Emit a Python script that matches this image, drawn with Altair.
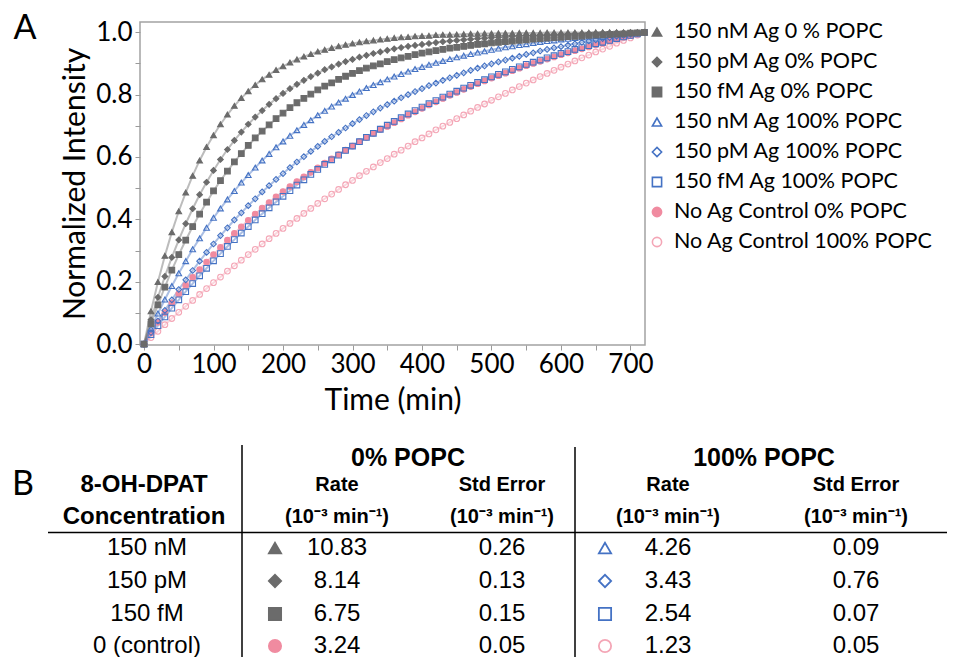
import altair as alt
import pandas as pd

# ---------------- data ----------------
time_min = list(range(0, 721, 10))

series_names = [
    "150 nM Ag 0 % POPC",
    "150 pM Ag 0% POPC",
    "150 fM Ag 0% POPC",
    "150 nM Ag 100% POPC",
    "150 pM Ag 100% POPC",
    "150 fM Ag 100% POPC",
    "No Ag Control 0% POPC",
    "No Ag Control 100% POPC",
]

nM_0pct = [0, .105, .199, .283, .359, .426, .486, .540, .589, .632,
           .670, .705, .736, .764, .789, .811, .831, .849, .864, .879,
           .891, .903, .913, .922, .930, .938, .944, .950, .955, .960,
           .964, .968, .971, .974, .977, .979, .982, .984, .985, .987,
           .988, .989, .991, .992, .992, .993, .994, .995, .995, .996,
           .996, .997, .997, .997, .998, .998, .998, .998, .999, .999,
           .999, .999, .999, .999, .999, 1.0, 1.0, 1.0, 1.0, 1.0,
           1.0, 1.0, 1.0]
pM_0pct = [0, .078, .150, .217, .278, .334, .386, .434, .479, .519,
           .557, .592, .624, .653, .680, .705, .728, .749, .769, .787,
           .804, .819, .833, .846, .858, .869, .880, .889, .898, .906,
           .913, .920, .926, .932, .937, .942, .947, .951, .955, .958,
           .961, .964, .967, .970, .972, .974, .976, .978, .980, .981,
           .983, .984, .985, .987, .988, .989, .990, .991, .992, .993,
           .993, .994, .995, .995, .996, .996, .997, .997, .998, .998,
           .999, .999, 1.0]
fM_0pct = [0, .065, .126, .183, .237, .287, .333, .377, .417, .455,
           .491, .524, .555, .584, .611, .637, .661, .683, .703, .723,
           .741, .758, .774, .788, .802, .815, .827, .838, .849, .859,
           .868, .877, .885, .892, .899, .906, .912, .918, .923, .928,
           .933, .937, .941, .945, .949, .952, .955, .958, .961, .963,
           .966, .968, .970, .972, .974, .976, .978, .980, .981, .983,
           .984, .986, .987, .988, .990, .991, .992, .993, .994, .995,
           .997, .998, 1.0]
nM_100pct = [0, .050, .098, .143, .186, .227, .266, .304, .339, .373,
             .405, .435, .464, .491, .518, .542, .566, .589, .610, .631,
             .650, .668, .686, .703, .718, .734, .748, .762, .775, .787,
             .799, .810, .821, .831, .840, .849, .858, .866, .874, .882,
             .889, .896, .902, .908, .914, .920, .925, .930, .935, .939,
             .944, .948, .952, .955, .959, .962, .966, .969, .972, .974,
             .977, .979, .982, .984, .986, .988, .990, .992, .994, .995,
             .997, .999, 1.0]
pM_100pct = [0, .037, .074, .108, .142, .175, .206, .236, .266, .294,
             .321, .348, .373, .398, .421, .444, .466, .488, .508, .528,
             .547, .566, .584, .601, .618, .634, .650, .665, .679, .693,
             .707, .720, .733, .745, .757, .768, .779, .790, .800, .810,
             .819, .829, .837, .846, .854, .862, .870, .878, .885, .892,
             .899, .905, .911, .917, .923, .929, .934, .940, .945, .950,
             .954, .959, .963, .968, .972, .976, .980, .983, .987, .990,
             .994, .997, 1.0]
fM_100pct = [0, .030, .059, .087, .115, .142, .168, .194, .219, .243,
             .267, .290, .313, .335, .356, .377, .398, .418, .437, .456,
             .474, .492, .510, .527, .544, .560, .576, .591, .606, .621,
             .635, .649, .663, .676, .689, .702, .714, .726, .738, .749,
             .760, .771, .781, .792, .802, .811, .821, .830, .839, .848,
             .857, .865, .873, .881, .889, .897, .904, .911, .918, .925,
             .932, .938, .945, .951, .957, .963, .968, .974, .980, .985,
             .990, .995, 1.0]
ctrl_0pct = [0, .036, .070, .101, .132, .161, .188, .214, .239, .263,
             .287, .310, .333, .355, .376, .397, .417, .436, .454, .472,
             .489, .505, .521, .536, .551, .565, .580, .594, .608, .622,
             .635, .649, .663, .676, .689, .698, .710, .722, .734, .745,
             .756, .767, .777, .788, .798, .807, .817, .826, .835, .844,
             .853, .861, .869, .877, .885, .893, .900, .907, .914, .921,
             .928, .934, .941, .947, .953, .960, .965, .972, .978, .984,
             .989, .995, 1.0]
ctrl_100pct = [0, .021, .041, .062, .082, .102, .121, .140, .159, .178,
               .197, .215, .234, .251, .269, .287, .304, .321, .338, .355,
               .371, .387, .403, .419, .435, .451, .466, .481, .496, .511,
               .525, .540, .554, .568, .582, .595, .609, .622, .635, .649,
               .661, .674, .687, .699, .711, .723, .735, .747, .759, .770,
               .782, .793, .804, .815, .826, .837, .847, .858, .868, .878,
               .888, .898, .908, .918, .927, .937, .946, .955, .965, .974,
               .982, .991, 1.0]

curves = [nM_0pct, pM_0pct, fM_0pct, nM_100pct, pM_100pct, fM_100pct,
          ctrl_0pct, ctrl_100pct]

# table B
conc_labels = ["150 nM", "150 pM", "150 fM", "0 (control)"]
rate_0 = [10.83, 8.14, 6.75, 3.24]
se_0 = [0.26, 0.13, 0.15, 0.05]
rate_100 = [4.26, 3.43, 2.54, 1.23]
se_100 = [0.09, 0.76, 0.07, 0.05]
group_headers = ["0% POPC", "100% POPC"]
col_head_1 = ["8-OH-DPAT", "Rate", "Std Error", "Rate", "Std Error"]
unit_txt = "(10\u207b\u00b3 min\u207b\u00b9)"
col_head_2 = ["Concentration", unit_txt, unit_txt, unit_txt, unit_txt]
sym_0 = [0, 1, 2, 6]      # series shown in the 0% rate column
sym_100 = [3, 4, 5, 7]    # series shown in the 100% rate column
panel_labels = ["A", "B"]

# ---------------- styles / layout ----------------
GRAY, BLUE, PINK, PINK_L = "#6b6b6b", "#4472c4", "#f08ba0", "#f4a6b6"
series_stroke = [GRAY, GRAY, GRAY, BLUE, BLUE, BLUE, PINK, PINK_L]
series_fill = [GRAY, GRAY, GRAY, "transparent", "transparent", "transparent", PINK, "transparent"]
series_shape = ["triangle-up", "diamond", "square", "triangle-up", "diamond", "square", "circle", "circle"]
draw_order = [7, 6, 5, 4, 3, 2, 1, 0]

PL, PT, PW, PH = 140, 22, 505, 323          # plot area on the page
TOTAL_W, TOTAL_H = 939, 649

col_x = [144, 337, 502, 668, 856]
group_x = [408, 764]
group_y = 458
head_y = [485, 517]
row_y = [548, 581, 614, 646]
sym_x = [275, 605]
panel_xy = [(25, 29), (23, 485)]
rules_xy = [(242, 242, 445, 665), (575, 575, 447, 665), (48, 955, 532.5, 532.5)]
legend_sym_x, legend_lab_x = 657, 674
legend_y = [32, 62, 92, 122, 152, 182, 212, 242]

# ---------------- frames ----------------
line_color = dict(zip(series_names, series_stroke))
rows = []
for k in draw_order:
    for t, v in zip(time_min, curves[k]):
        rows.append({"t": t, "v": v, "series": series_names[k],
                     "lc": line_color[series_names[k]]})
df = pd.DataFrame(rows)

bold_rows = []
for g, gx in zip(group_headers, group_x):
    bold_rows.append({"text": g, "x": gx, "y": group_y, "fs": 25})
for i, cx in enumerate(col_x):
    fs1 = 24 if i == 0 else 20
    fs2 = 24 if i == 0 else 20
    bold_rows.append({"text": col_head_1[i], "x": cx, "y": head_y[0], "fs": fs1})
    bold_rows.append({"text": col_head_2[i], "x": cx, "y": head_y[1], "fs": fs2})
bold_df = pd.DataFrame(bold_rows)

body_rows = []
for r in range(4):
    body_rows.append({"text": conc_labels[r], "x": col_x[0] + 3, "y": row_y[r]})
    for ci, vals in zip([1, 2, 3, 4], [rate_0, se_0, rate_100, se_100]):
        body_rows.append({"text": f"{vals[r]:.2f}", "x": col_x[ci], "y": row_y[r]})
body_df = pd.DataFrame(body_rows)

sym_rows = []
for r in range(4):
    sym_rows.append({"x": sym_x[0], "y": row_y[r], "series": series_names[sym_0[r]]})
    sym_rows.append({"x": sym_x[1], "y": row_y[r], "series": series_names[sym_100[r]]})
sym_df = pd.DataFrame(sym_rows)

leg_df = pd.DataFrame([{"series": s, "x": legend_sym_x, "lx": legend_lab_x, "y": y}
                       for s, y in zip(series_names, legend_y)])

rule_df = pd.DataFrame([{"x1": a, "x2": b, "y1": c, "y2": d} for a, b, c, d in rules_xy])
panel_df = pd.DataFrame([{"text": s, "x": p[0], "y": p[1]} for s, p in zip(panel_labels, panel_xy)])

# ---------------- scales ----------------
stroke_scale = alt.Scale(domain=series_names, range=series_stroke)
fill_scale = alt.Scale(domain=series_names, range=series_fill)
shape_scale = alt.Scale(domain=series_names, range=series_shape)


def sym_enc():
    return dict(
        stroke=alt.Stroke("series:N", scale=stroke_scale, legend=None),
        fill=alt.Fill("series:N", scale=fill_scale, legend=None),
        shape=alt.Shape("series:N", scale=shape_scale, legend=None),
    )


x_plot = alt.X(
    "t:Q",
    scale=alt.Scale(domain=[-5.8, 720.9], nice=False, zero=False),
    axis=alt.Axis(
        values=list(range(0, 701, 50)),
        labelExpr="datum.value % 100 === 0 ? datum.label : ''",
        title="Time (min)", format="d",
        labelFontSize=26, titleFontSize=30, tickSize=5, labelPadding=1, titlePadding=8,
    ),
)
y_plot = alt.Y(
    "v:Q",
    scale=alt.Scale(domain=[-0.003, 1.033], nice=False, zero=False),
    axis=alt.Axis(
        values=[0.0, 0.1, 0.2, 0.3, 0.4, 0.5, 0.6, 0.7, 0.8, 0.9, 1.0],
        labelExpr="round(datum.value * 10) % 2 === 0 ? format(datum.value, '.1f') : ''",
        title="Normalized Intensity",
        labelFontSize=26, titleFontSize=30, tickSize=5, labelPadding=3, titlePadding=5,
    ),
)

lines = alt.Chart(df).mark_line(strokeWidth=2, opacity=0.45).encode(
    x=x_plot, y=y_plot,
    stroke=alt.Stroke("lc:N", scale=None),
    detail="series:N",
)
points = alt.Chart(df).mark_point(size=32, strokeWidth=1.1, opacity=1).encode(
    x=x_plot, y=y_plot, **sym_enc()
)
plot = alt.layer(lines, points)

tx = alt.X("x:Q", scale=alt.Scale(domain=[PL, PL + PW], nice=False, zero=False), axis=None)
ty = alt.Y("y:Q", scale=alt.Scale(domain=[PT + PH, PT], nice=False, zero=False), axis=None)

rules = alt.Chart(rule_df).mark_rule(color="black", strokeWidth=1.5).encode(
    x=alt.X("x1:Q", scale=alt.Scale(domain=[PL, PL + PW], nice=False, zero=False), axis=None),
    x2="x2:Q",
    y=alt.Y("y1:Q", scale=alt.Scale(domain=[PT + PH, PT], nice=False, zero=False), axis=None),
    y2="y2:Q",
)
bold_text = alt.Chart(bold_df).mark_text(
    font="Liberation Sans", fontWeight="bold", color="black", baseline="middle", align="center"
).encode(x=tx, y=ty, text="text:N", size=alt.Size("fs:Q", scale=None))
body_text = alt.Chart(body_df).mark_text(
    font="Liberation Sans", fontSize=24, color="black", baseline="middle", align="center"
).encode(x=tx, y=ty, text="text:N")
table_syms = alt.Chart(sym_df).mark_point(size=150, strokeWidth=1.8, opacity=1).encode(
    x=tx, y=ty, **sym_enc()
)
legend_syms = alt.Chart(leg_df).mark_point(size=85, strokeWidth=1.6, opacity=1).encode(
    x=tx, y=ty, **sym_enc()
)
legend_text = alt.Chart(leg_df).mark_text(
    font="Lato", fontSize=21.5, color="black", baseline="middle", align="left"
).encode(x=alt.X("lx:Q", scale=alt.Scale(domain=[PL, PL + PW], nice=False, zero=False), axis=None),
         y=ty, text="series:N")
panel_text = alt.Chart(panel_df).mark_text(
    font="Lato", fontSize=34, color="black", baseline="middle", align="center"
).encode(x=tx, y=ty, text="text:N")

table = alt.layer(rules, bold_text, body_text, table_syms, legend_syms, legend_text, panel_text)

chart = (
    alt.layer(plot, table)
    .resolve_scale(x="independent", y="independent")
    .properties(
        width=PW, height=PH,
        padding={"left": PL - 8, "top": PT - 8, "right": TOTAL_W - (PL - 8) - PW,
                 "bottom": TOTAL_H - (PT - 8) - PH},
        autosize=alt.AutoSizeParams(type="none"),
    )
    .configure_view(stroke="#a3a3a3", strokeWidth=1.5)
    .configure_axis(
        grid=False, domain=False, tickColor="#9a9a9a", tickWidth=1,
        labelFont="Lato", titleFont="Lato", labelColor="black", titleColor="black",
        titleFontWeight="normal",
    )
)

chart.save("out.html", embed_options={"renderer": "svg", "actions": False})
